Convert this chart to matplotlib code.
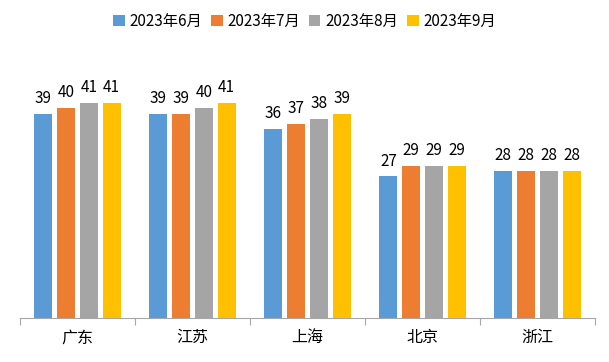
import numpy as np
import matplotlib.pyplot as plt

plt.rcParams['font.family'] = ['Noto Sans CJK SC', 'DejaVu Sans']

cities = ['广东', '江苏', '上海', '北京', '浙江']
series_names = ['2023年6月', '2023年7月', '2023年8月', '2023年9月']
jun = [39, 39, 36, 27, 28]
jul = [40, 39, 37, 29, 28]
aug = [41, 40, 38, 29, 28]
sep = [41, 41, 39, 29, 28]
colors = ['#5B9BD5', '#ED7D31', '#A5A5A5', '#FFC000']

fig = plt.figure(figsize=(6.09, 3.62), dpi=100)
ax = fig.add_axes([0.033, 0.1215, 0.944, 0.724])

x = np.arange(len(cities))
width = 0.157
offsets = [-0.297, -0.1, 0.1, 0.297]
for vals, name, col, off in zip([jun, jul, aug, sep], series_names, colors, offsets):
    bars = ax.bar(x + off, vals, width, color=col, label=name)
    for b, v in zip(bars, vals):
        ax.annotate(str(v), (b.get_x() + b.get_width() / 2, v), xytext=(0, 5),
                    textcoords='offset points', ha='center', va='bottom', fontsize=11)

ax.set_xlim(-0.5, len(cities) - 0.5)
ax.set_ylim(0, 50)
for s in ['top', 'right', 'left']:
    ax.spines[s].set_visible(False)
ax.spines['bottom'].set_color('#A6A6A6')
ax.set_yticks([])
ax.set_xticks(np.arange(len(cities) + 1) - 0.5)
ax.set_xticklabels([])
ax.tick_params(axis='x', length=5, color='#A6A6A6')
ax.set_xticks(x, minor=True)
ax.set_xticklabels(cities, minor=True, fontsize=11.5)
ax.tick_params(axis='x', which='minor', length=0, pad=8)

fig.legend(loc='center', bbox_to_anchor=(0.5, 0.94), ncol=4, frameon=False, fontsize=11,
           handlelength=0.75, handleheight=0.75, handletextpad=0.3, columnspacing=0.6)

fig.savefig('out.png', dpi=100)
